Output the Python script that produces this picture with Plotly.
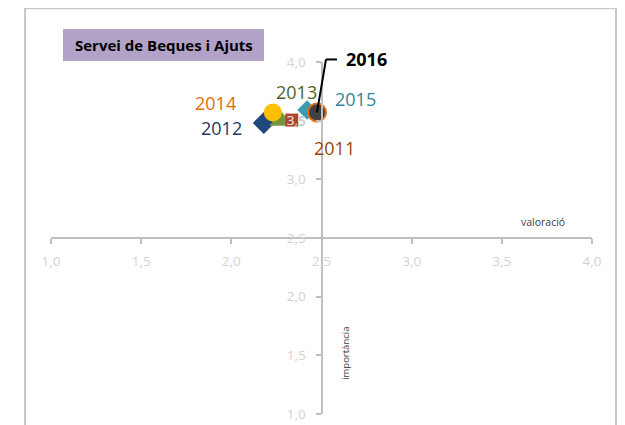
import plotly.graph_objects as go

years = ["2012", "2013", "2014", "2011", "2015", "2016"]
valoracio = [2.18, 2.275, 2.23, 2.335, 2.42, 2.475]
importancia = [3.48, 3.50, 3.57, 3.505, 3.59, 3.57]
tick_vals = [1.0, 1.5, 2.0, 2.5, 3.0, 3.5, 4.0]
axis_range = [1.0, 4.0]

symbols = {"2012": "diamond", "2013": "triangle-up", "2014": "circle",
           "2011": "square", "2015": "diamond", "2016": "circle"}
sizes = {"2012": 17, "2013": 20, "2014": 18, "2011": 13, "2015": 15, "2016": 18}
fills = {"2012": "#1F497D", "2013": "#77933C", "2014": "#FFC000",
         "2011": "#B0442E", "2015": "#3A9BB5", "2016": "#404040"}
lines = {"2016": ("#E46C0A", 2)}
label_colors = {"2012": "#1F3864", "2013": "#4F6228", "2014": "#E46C0A",
                "2011": "#984807", "2015": "#31859C", "2016": "#000000"}
label_shift = {"2012": (-42, -5), "2013": (16, 29), "2014": (-57, 9),
               "2011": (43, -28), "2015": (48, 11)}

fig = go.Figure()
for y, vx, vy in zip(years, valoracio, importancia):
    lc, lw = lines.get(y, (fills[y], 0))
    fig.add_trace(go.Scatter(
        x=[vx], y=[vy], mode="markers", name=y,
        marker=dict(symbol=symbols[y], size=sizes[y], color=fills[y],
                    line=dict(color=lc, width=lw)),
        hoverinfo="x+y+name", showlegend=False))

annotations = []
for y, vx, vy in zip(years, valoracio, importancia):
    if y in label_shift:
        dx, dy = label_shift[y]
        annotations.append(dict(x=vx, y=vy, xref="x", yref="y", text=y,
                                showarrow=False, xshift=dx, yshift=dy,
                                xanchor="center", yanchor="middle",
                                font=dict(family="Open Sans", size=18, color=label_colors[y])))

# small overlapped label fragments
i11 = years.index("2011")
annotations.append(dict(x=valoracio[i11], y=importancia[i11], text="3", showarrow=False,
                        xanchor="center", yanchor="middle",
                        xshift=-1, yshift=0, font=dict(family="Open Sans", size=13, color="#d9d9d9")))
i15 = years.index("2015")
annotations.append(dict(x=valoracio[i15], y=importancia[i15], text="5", showarrow=False,
                        xanchor="center", yanchor="middle",
                        xshift=-6, yshift=-11, font=dict(family="Open Sans", size=13, color="#b7cdd4")))

# 2016 label with leader line
i16 = years.index("2016")
annotations.append(dict(x=valoracio[i16], y=importancia[i16], text="<b>2016</b>", showarrow=False,
                        xanchor="left", yanchor="middle", xshift=27, yshift=53,
                        font=dict(family="Open Sans", size=18, color="#000000")))

# leader anchored at the 2016 point (converted to paper fraction so it is not clipped)
span = axis_range[1] - axis_range[0]
px16 = (valoracio[i16] - axis_range[0]) / span
py16 = (importancia[i16] - axis_range[0]) / span
leader = dict(type="line", xref="paper", yref="paper", xsizemode="pixel", ysizemode="pixel",
              xanchor=px16, yanchor=py16, line=dict(color="#000000", width=2))
shapes = [
    dict(leader, x0=0, y0=0, x1=9, y1=53),
    dict(leader, x0=9, y0=53, x1=20, y1=53),
    # outer frame
    dict(type="rect", xref="paper", yref="paper", x0=-0.048, x1=1.0444, y0=-0.06, y1=1.153,
         line=dict(color="#c8c8c8", width=2), fillcolor="rgba(0,0,0,0)", layer="below"),
    # title box
    dict(type="rect", xref="paper", yref="paper", x0=0.0222, x1=0.3937, y0=1.0028, y1=1.0938,
         line=dict(width=0), fillcolor="#B3A2C7", layer="below"),
]

annotations += [
    dict(x=0.208, y=1.048, xref="paper", yref="paper", text="<b>Servei de Beques i Ajuts</b>",
         xanchor="center", yanchor="middle",
         showarrow=False, font=dict(family="Open Sans", size=15, color="#000000")),
    dict(x=0.909, y=0.545, xref="paper", yref="paper", text="valoració", showarrow=False,
         xanchor="center", yanchor="middle",
         font=dict(family="Open Sans", size=10.5, color="#404040")),
    dict(x=0.543, y=0.173, xref="paper", yref="paper", text="importància", showarrow=False,
         xanchor="center", yanchor="middle",
         textangle=-90, font=dict(family="Open Sans", size=9.5, color="#404040")),
]

axis_common = dict(range=axis_range, tickvals=tick_vals, tickformat=".1f", showgrid=False,
                   zeroline=False, showline=True, linecolor="#bfbfbf", linewidth=2,
                   ticks="outside", ticklen=5, tickwidth=2, tickcolor="#bfbfbf",
                   tickfont=dict(family="Open Sans", size=13.5, color="#d3d3d3"),
                   anchor="free", position=0.5, fixedrange=True, automargin=False)

fig.update_layout(
    width=625, height=425,
    margin=dict(l=43, r=41, t=54, b=19, autoexpand=False),
    paper_bgcolor="white", plot_bgcolor="white",
    separators=",.",
    xaxis=dict(**axis_common, ticklabelstandoff=6),
    yaxis=dict(**axis_common, ticklabelstandoff=7),
    shapes=shapes, annotations=annotations,
    showlegend=False,
)

fig.write_html("out.html")
